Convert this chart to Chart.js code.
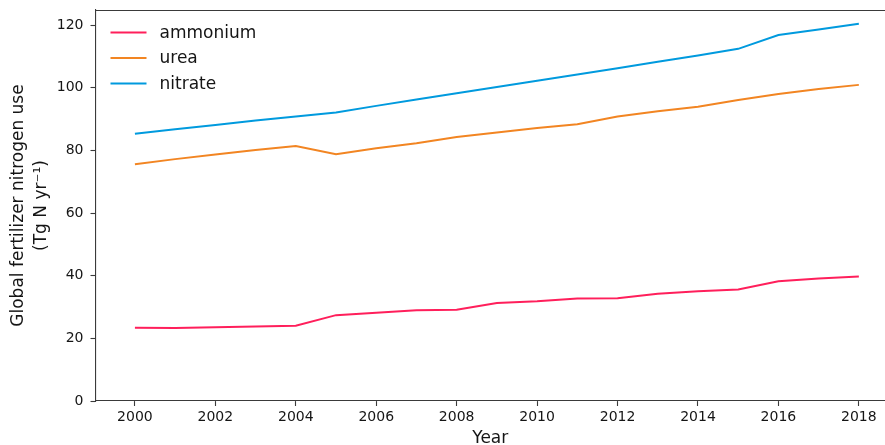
<!DOCTYPE html>
<html>
<head>
<meta charset="utf-8">
<script src="https://cdn.jsdelivr.net/npm/chart.js@4/dist/chart.umd.min.js"></script>
<style>
  html, body { margin: 0; padding: 0; background: #fff; overflow: hidden; }
  #wrap { width: 885px; height: 445px; }
</style>
</head>
<body>
<div id="wrap"><canvas id="c" width="885" height="445"></canvas></div>
<script>
// Global fertilizer nitrogen use by form, Tg N per year
const years = [2000, 2001, 2002, 2003, 2004, 2005, 2006, 2007, 2008, 2009,
               2010, 2011, 2012, 2013, 2014, 2015, 2016, 2017, 2018];
const ammonium = [23.4, 23.3, 23.5, 23.8, 24.0, 27.4, 28.2, 29.0, 29.1, 31.3,
                  31.8, 32.7, 32.8, 34.2, 35.0, 35.6, 38.2, 39.1, 39.7];
const urea = [75.6, 77.2, 78.7, 80.1, 81.4, 78.8, 80.7, 82.3, 84.3, 85.7,
              87.1, 88.3, 90.8, 92.5, 93.9, 96.1, 98.0, 99.6, 100.9];
const nitrate = [85.3, 86.7, 88.1, 89.5, 90.8, 92.1, 94.2, 96.2, 98.2, 100.2,
                 102.2, 104.2, 106.2, 108.3, 110.3, 112.4, 116.8, 118.6, 120.4];

const seriesNames = ['ammonium', 'urea', 'nitrate'];
const seriesColors = ['#ff1f5b', '#f28522', '#009ade'];

const xTicks = [2000, 2002, 2004, 2006, 2008, 2010, 2012, 2014, 2016, 2018];
const yTicks = [0, 20, 40, 60, 80, 100, 120];

const FONT = 'DejaVu Sans';
const INK = '#151515';
const SPINE = '#3a3a3a';

const toPoints = vals => vals.map((v, i) => ({ x: years[i], y: v }));

const datasets = [ammonium, urea, nitrate].map((vals, i) => ({
  label: seriesNames[i],
  data: toPoints(vals),
  borderColor: seriesColors[i],
  backgroundColor: seriesColors[i],
  borderWidth: 2,
  pointRadius: 0,
  tension: 0,
  fill: false
}));

// Legend in the upper-left corner of the plot plus the top frame line
const framePlugin = {
  id: 'frameAndLegend',
  afterDraw(chart) {
    const { ctx, chartArea } = chart;
    ctx.save();
    ctx.strokeStyle = SPINE;
    ctx.lineWidth = 1.1;
    ctx.beginPath();
    ctx.moveTo(chartArea.left, chartArea.top + 0.5);
    ctx.lineTo(chartArea.right, chartArea.top + 0.5);
    ctx.stroke();

    const x0 = chartArea.left + 15;
    const lineLen = 36;
    const textX = x0 + 49;
    const rowY = [32.5, 58, 83.5];
    ctx.font = '17px "' + FONT + '"';
    ctx.textBaseline = 'middle';
    ctx.textAlign = 'left';
    chart.data.datasets.forEach((ds, i) => {
      ctx.strokeStyle = ds.borderColor;
      ctx.lineWidth = 2;
      ctx.beginPath();
      ctx.moveTo(x0, rowY[i]);
      ctx.lineTo(x0 + lineLen, rowY[i]);
      ctx.stroke();
      ctx.fillStyle = INK;
      ctx.fillText(ds.label, textX, rowY[i] + 1);
    });
    ctx.restore();
  }
};

new Chart(document.getElementById('c'), {
  type: 'line',
  data: { datasets },
  plugins: [framePlugin],
  options: {
    responsive: false,
    animation: false,
    devicePixelRatio: 1,
    layout: { padding: { top: 10, left: 0, right: 0, bottom: 0 } },
    plugins: {
      legend: { display: false },
      tooltip: { enabled: false }
    },
    scales: {
      x: {
        type: 'linear',
        min: 1999.02,
        max: 2018.65,
        afterBuildTicks: s => { s.ticks = xTicks.map(v => ({ value: v })); },
        afterFit: s => { s.height = 44; s.paddingLeft = 0; s.paddingRight = 0; },
        ticks: {
          color: INK,
          font: { family: FONT, size: 14 },
          padding: 3,
          maxRotation: 0,
          callback: v => String(v)
        },
        grid: {
          display: true,
          drawOnChartArea: false,
          drawTicks: true,
          tickLength: 5,
          tickWidth: 1.1,
          tickColor: SPINE
        },
        border: { display: true, color: SPINE, width: 1.1 },
        title: {
          display: true,
          text: 'Year',
          color: INK,
          font: { family: FONT, size: 17, lineHeight: '12px' },
          padding: { top: 0, bottom: 0 }
        }
      },
      y: {
        type: 'linear',
        min: 0,
        max: 124.8,
        afterBuildTicks: s => { s.ticks = yTicks.map(v => ({ value: v })); },
        afterFit: s => { s.width = 95.5; s.paddingTop = 0; s.paddingBottom = 0; },
        ticks: {
          color: INK,
          font: { family: FONT, size: 14 },
          padding: 7,
          callback: v => String(v)
        },
        grid: {
          display: true,
          drawOnChartArea: false,
          drawTicks: true,
          tickLength: 5,
          tickWidth: 1.1,
          tickColor: SPINE
        },
        border: { display: true, color: SPINE, width: 1.1 },
        title: {
          display: true,
          text: ['Global fertilizer nitrogen use', '(Tg N yr\u207B\u00B9)'],
          color: INK,
          font: { family: FONT, size: 17, lineHeight: '23px' },
          padding: { top: 7, bottom: 0 }
        }
      }
    }
  }
});
</script>
</body>
</html>
